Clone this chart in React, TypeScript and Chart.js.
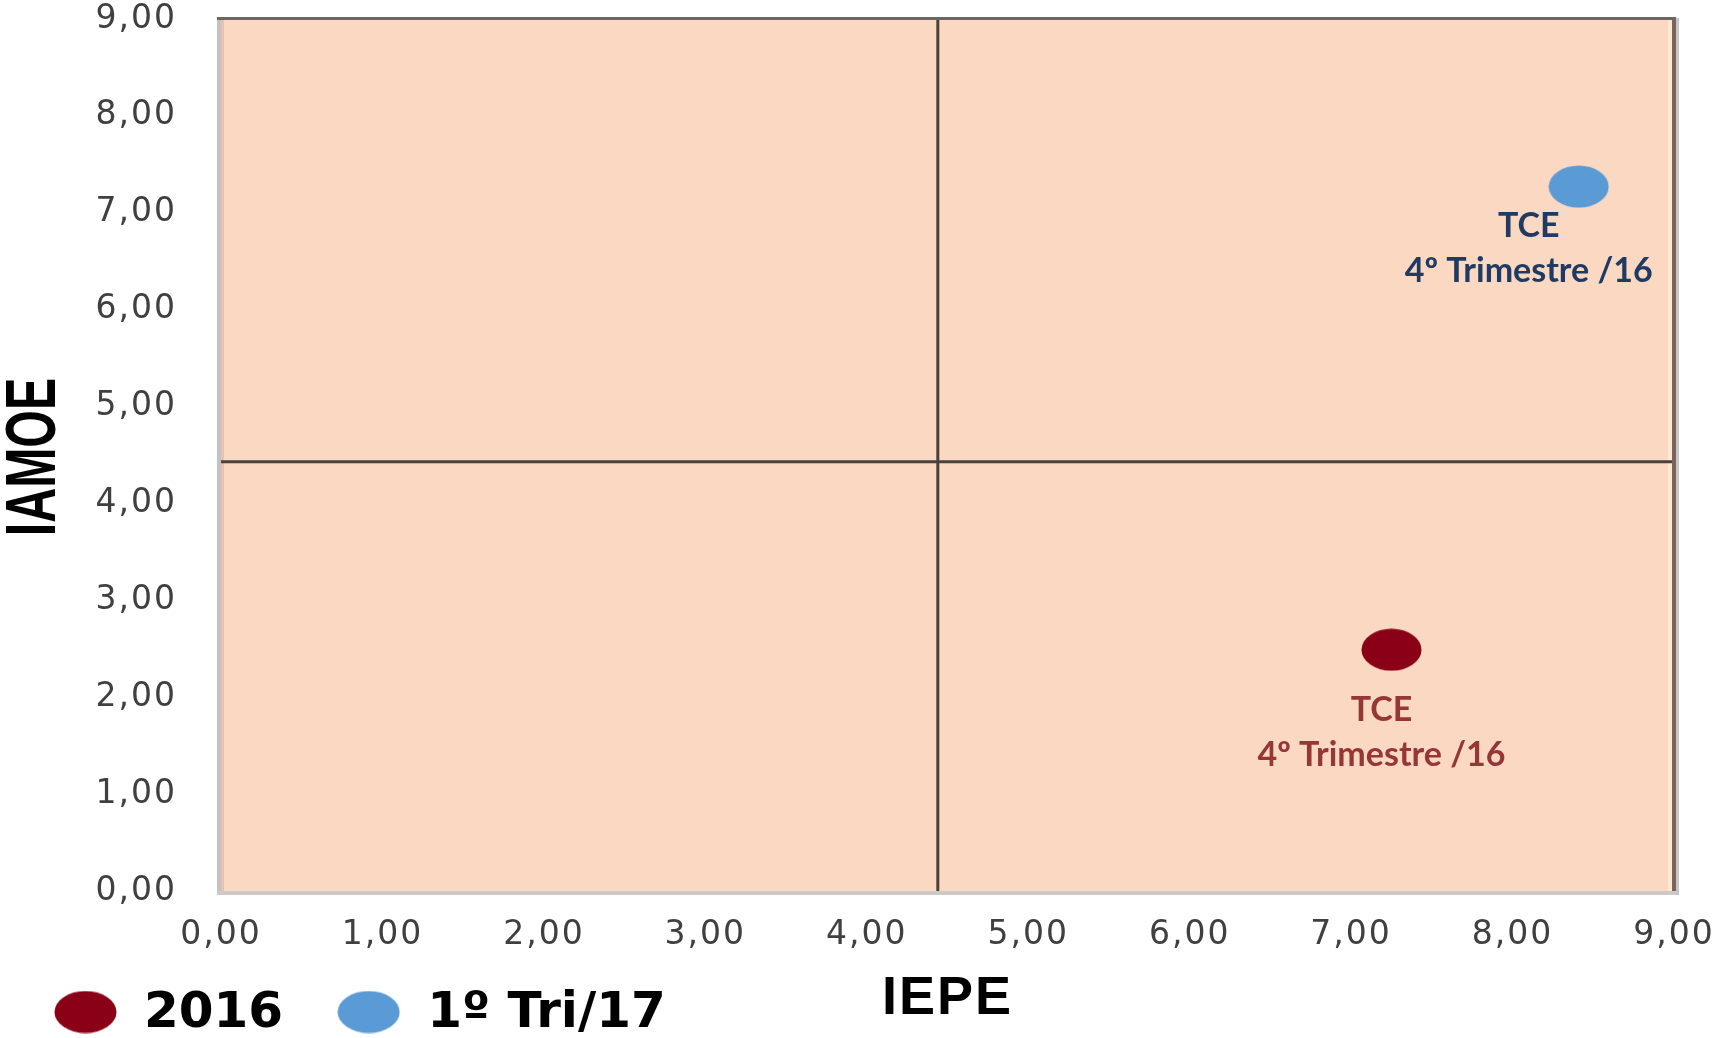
import React, { useEffect, useRef } from "react";
import { Chart, registerables } from "chart.js";

Chart.register(...registerables);

// ---- data ----
const seriesNames = ["2016", "1º Tri/17"];
const seriesColors = ["#8A0016", "#5B9BD5"];
const pointX = [7.25, 8.41];
const pointY = [2.49, 7.27];
const labelLine1 = ["TCE", "TCE"];
const labelLine2 = ["4º Trimestre /16", "4º Trimestre /16"];
const labelColors = ["#953735", "#1F3B63"];
const dividerX = 4.44;
const dividerY = 4.43;
const axisMin = 0;
const axisMax = 9;
const tickLabels = ["0,00", "1,00", "2,00", "3,00", "4,00", "5,00", "6,00", "7,00", "8,00", "9,00"];
const xTitle = "IEPE";
const yTitle = "IAMOE";

// ---- styling ----
const PLOT_BG = "#FAD8C2";
const labelOffsets = [
  { dx: -10, dy: 60 },
  { dx: -50, dy: 39 },
];

function makeEllipse(color: string, w: number, h: number): HTMLCanvasElement {
  const c = document.createElement("canvas");
  c.width = w;
  c.height = h;
  const ctx = c.getContext("2d")!;
  ctx.fillStyle = color;
  ctx.beginPath();
  ctx.ellipse(w / 2, h / 2, w / 2 - 0.5, h / 2 - 0.5, 0, 0, Math.PI * 2);
  ctx.fill();
  return c;
}

export default function App() {
  const ref = useRef<HTMLCanvasElement | null>(null);

  useEffect(() => {
    document.body.style.margin = "0";
    document.body.style.overflow = "hidden";
    const canvas = ref.current!;
    const pointImgs = seriesColors.map((c) => makeEllipse(c, 61, 43));
    const legendImgs = seriesColors.map((c) => makeEllipse(c, 63, 43));

    const spacingPlugin = {
      id: "tickSpacing",
      beforeDraw(chart: any) {
        (chart.ctx as any).letterSpacing = "2px";
      },
      beforeDatasetsDraw(chart: any) {
        (chart.ctx as any).letterSpacing = "0px";
      },
    };

    const bgPlugin = {
      id: "plotBg",
      beforeDatasetsDraw(chart: any) {
        const { ctx, chartArea: a } = chart;
        ctx.save();
        ctx.fillStyle = PLOT_BG;
        ctx.fillRect(a.left, a.top, a.right - a.left, a.bottom - a.top);
        ctx.fillStyle = "#E6C3AE";
        ctx.fillRect(a.left, a.top, 3, a.bottom - a.top);
        ctx.fillStyle = "#FDE8D2";
        ctx.fillRect(a.right - 6, a.top, 4, a.bottom - a.top);
        ctx.restore();
      },
      afterDatasetsDraw(chart: any) {
        const { ctx, chartArea: a } = chart;
        ctx.save();
        ctx.fillStyle = "#C6C2C0";
        ctx.fillRect(a.left - 4, a.top - 1, 4, a.bottom - a.top + 4);
        ctx.fillStyle = "#CCC9C9";
        ctx.fillRect(a.left - 4, a.bottom, a.right - a.left + 8, 4);
        ctx.fillStyle = "#7A635A";
        ctx.fillRect(a.right - 2, a.top - 1, 4, a.bottom - a.top + 1);
        ctx.fillStyle = "#C3C6CA";
        ctx.fillRect(a.right + 2, a.top - 1, 3, a.bottom - a.top + 5);
        ctx.fillStyle = "#6E6664";
        ctx.fillRect(a.left - 4, a.top - 2, a.right - a.left + 6, 3);
        ctx.restore();
      },
    };

    const labelPlugin = {
      id: "pointLabels",
      afterDatasetsDraw(chart: any) {
        const { ctx } = chart;
        ctx.save();
        ctx.font = "bold 34px Lato, 'Open Sans', sans-serif";
        ctx.textAlign = "center";
        ctx.textBaseline = "middle";
        for (let i = 0; i < seriesNames.length; i++) {
          const el = chart.getDatasetMeta(i).data[0];
          if (!el) continue;
          const o = labelOffsets[i];
          ctx.fillStyle = labelColors[i];
          ctx.fillText(labelLine1[i], el.x + o.dx, el.y + o.dy);
          ctx.fillText(labelLine2[i], el.x + o.dx, el.y + o.dy + 45);
        }
        ctx.restore();
      },
    };

    const titleLegendPlugin = {
      id: "titleAndLegend",
      afterDraw(chart: any) {
        const { ctx, chartArea: a } = chart;
        ctx.save();
        ctx.letterSpacing = "0px";
        // y axis title (condensed)
        ctx.save();
        ctx.translate(34, (a.top + a.bottom) / 2 + 2);
        ctx.rotate(-Math.PI / 2);
        ctx.scale(0.69, 1);
        ctx.font = "bold 70px 'Liberation Sans', Arial, sans-serif";
        ctx.textAlign = "center";
        ctx.textBaseline = "middle";
        ctx.fillStyle = "#000000";
        ctx.fillText(yTitle, 0, 2);
        ctx.restore();
        // legend
        ctx.font = "bold 50px 'DejaVu Sans', sans-serif";
        ctx.textAlign = "left";
        ctx.textBaseline = "middle";
        let x = 54;
        const cy = 1012;
        for (let i = 0; i < seriesNames.length; i++) {
          const img = legendImgs[i];
          ctx.drawImage(img, x, cy - img.height / 2);
          const tx = x + 90;
          ctx.fillStyle = "#000000";
          ctx.fillText(seriesNames[i], tx, cy + 2);
          x = tx + ctx.measureText(seriesNames[i]).width + 54;
        }
        ctx.restore();
      },
    };

    const pointDatasets = seriesNames.map((name, i) => ({
      type: "scatter" as const,
      label: name,
      data: [{ x: pointX[i], y: pointY[i] }],
      pointStyle: pointImgs[i],
      pointRadius: 30,
      backgroundColor: seriesColors[i],
      borderColor: seriesColors[i],
    }));

    const dividerStyle = {
      type: "line" as const,
      borderColor: "#4A403C",
      borderWidth: 3,
      pointRadius: 0,
      fill: false,
      showLine: true,
    };

    const chart = new Chart(canvas, {
      type: "scatter",
      data: {
        datasets: [
          ...pointDatasets,
          {
            ...dividerStyle,
            label: "vertical",
            data: [
              { x: dividerX, y: axisMin },
              { x: dividerX, y: axisMax },
            ],
          },
          {
            ...dividerStyle,
            label: "horizontal",
            data: [
              { x: axisMin, y: dividerY },
              { x: axisMax, y: dividerY },
            ],
          },
        ] as any,
      },
      options: {
        animation: false,
        responsive: true,
        maintainAspectRatio: false,
        layout: { autoPadding: false, padding: { top: 19, right: 43, left: 0, bottom: 0 } },
        plugins: {
          legend: { display: false },
          tooltip: { enabled: false },
        },
        scales: {
          x: {
            type: "linear",
            min: axisMin,
            max: axisMax,
            grid: { display: false, drawTicks: false },
            border: { display: false },
            ticks: {
              stepSize: 1,
              autoSkip: false,
              maxRotation: 0,
              padding: 25,
              color: "#404040",
              font: { family: "'DejaVu Sans', sans-serif", size: 33 },
              callback: (v: any) => tickLabels[Math.round(Number(v))],
            },
            title: {
              display: true,
              text: xTitle,
              color: "#000000",
              font: { family: "'Liberation Sans', Arial, sans-serif", size: 54, weight: "bold" },
              padding: { top: 0, bottom: 6 },
            },
            afterFit: (scale: any) => {
              scale.height = 147;
              scale.paddingLeft = 0;
              scale.paddingRight = 0;
            },
          },
          y: {
            type: "linear",
            min: axisMin,
            max: axisMax,
            grid: { display: false, drawTicks: false },
            border: { display: false },
            ticks: {
              stepSize: 1,
              autoSkip: false,
              padding: 44,
              color: "#404040",
              font: { family: "'DejaVu Sans', sans-serif", size: 33 },
              callback: (v: any) => tickLabels[Math.round(Number(v))],
            },
            title: { display: false },
            afterFit: (scale: any) => {
              scale.width = 221;
              scale.paddingTop = 0;
              scale.paddingBottom = 0;
            },
          },
        },
      },
      plugins: [spacingPlugin, bgPlugin, labelPlugin, titleLegendPlugin],
    });

    return () => chart.destroy();
  }, []);

  return (
    <div style={{ position: "relative", width: "1717px", height: "1038px" }}>
      <canvas ref={ref} />
    </div>
  );
}
